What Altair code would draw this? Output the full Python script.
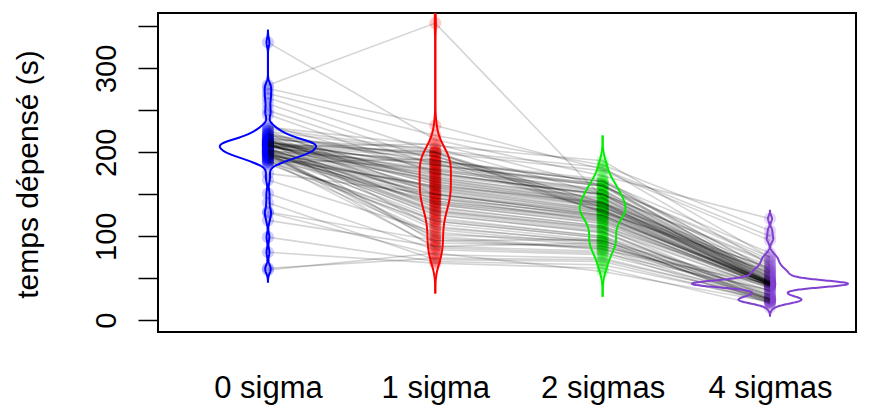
import altair as alt
import numpy as np
import pandas as pd

# condition labels (x axis)
conditions = ["0 sigma", "1 sigma", "2 sigmas", "4 sigmas"]
colors = ["#0000FF", "#FF0000", "#00EE00", "#8040D0"]

# time spent (s) per subject, one list per condition (same subject order)
t0 = [205, 207, 194, 210, 198, 212, 219, 201, 215, 208,
      189, 209, 195, 220, 223, 200, 211, 202, 207, 218,
      197, 190, 213, 204, 199, 225, 213, 208, 203, 210,
      186, 214, 192, 201, 207, 230, 204, 209, 197, 212,
      226, 202, 216, 205, 193, 208, 195, 211, 200, 222,
      215, 203, 188, 209, 188, 214, 201, 207, 196, 210,
      221, 228, 206, 202, 212, 199, 198, 208, 191, 217,
      203, 232, 331, 280, 276, 270, 265, 258, 250, 245,
      175, 167, 151, 140, 129, 128, 119, 99, 81, 62,
      60, 196, 214, 199, 200, 217, 211, 193, 222, 209]
t1 = [190, 175, 160, 200, 150, 185, 140, 130, 205, 170,
      120, 155, 180, 195, 165, 145, 135, 125, 210, 190,
      158, 118, 172, 148, 138, 200, 162, 178, 128, 152,
      115, 182, 142, 168, 195, 208, 132, 158, 122, 176,
      150, 186, 164, 138, 112, 198, 145, 170, 126, 188,
      156, 174, 100, 134, 192, 162, 118, 180, 108, 146,
      168, 202, 130, 154, 184, 95, 140, 166, 88, 196,
      150, 178, 215, 354, 232, 220, 200, 190, 185, 175,
      150, 105, 84, 72, 95, 78, 88, 70, 68, 74,
      80, 102, 92, 86, 98, 110, 200, 160, 142, 188]
t2 = [165, 150, 140, 140, 125, 160, 120, 110, 150, 145,
      100, 130, 155, 138, 138, 118, 112, 105, 160, 168,
      132, 98, 150, 122, 115, 135, 136, 152, 106, 128,
      95, 160, 120, 140, 132, 190, 110, 135, 100, 148,
      126, 162, 140, 116, 92, 140, 124, 146, 104, 166,
      132, 150, 85, 112, 130, 138, 98, 156, 90, 124,
      144, 182, 108, 130, 162, 96, 118, 142, 92, 134,
      128, 154, 172, 146, 180, 185, 178, 165, 160, 150,
      125, 88, 78, 70, 86, 74, 82, 66, 62, 72,
      58, 94, 88, 80, 84, 94, 128, 136, 122, 130]
t3 = [60, 45, 43, 65, 42, 48, 40, 38, 70, 44,
      35, 43, 50, 55, 42, 41, 44, 30, 72, 58,
      45, 25, 46, 43, 40, 62, 44, 47, 24, 42,
      22, 52, 41, 45, 56, 75, 26, 43, 23, 46,
      42, 50, 44, 40, 25, 60, 43, 45, 28, 54,
      42, 46, 22, 41, 57, 44, 30, 48, 24, 43,
      45, 66, 38, 42, 51, 20, 42, 44, 26, 58,
      43, 47, 121, 50, 100, 107, 95, 80, 75, 68,
      45, 35, 28, 22, 30, 25, 20, 24, 15, 26,
      22, 33, 40, 36, 43, 42, 63, 44, 46, 53]
series = [t0, t1, t2, t3]

# kernel bandwidth of each violin
violin_bw = [5, 12, 10, 3.5]

rows = []
for ci, vals in enumerate(series):
    for si, v in enumerate(vals):
        rows.append({"subject": si, "cond": conditions[ci], "pos": ci + 1, "value": v})
df = pd.DataFrame(rows)

# violin width scale: widest violin gets half-width 0.466 category units
def kde_max(vals, bw, lo, hi):
    v = np.asarray(vals, float)
    g = np.linspace(lo, hi, 3000)
    d = np.exp(-0.5 * ((g[:, None] - v[None, :]) / bw) ** 2).sum(1) / (len(v) * bw * np.sqrt(2 * np.pi))
    return d.max()

extents = [[min(s) - 3 * b, max(s) + 3 * b] for s, b in zip(series, violin_bw)]
dmax = max(kde_max(s, b, e[0], e[1]) for s, b, e in zip(series, violin_bw, extents))
K = 0.466 / dmax

xscale = alt.Scale(domain=[0.343, 4.514], nice=False, zero=False)
yscale = alt.Scale(domain=[-14, 366], nice=False, zero=False)
cscale = alt.Scale(domain=conditions, range=colors)

label_expr = "[" + ",".join("'%s'" % c for c in conditions) + "][datum.value - 1]"

xaxis = alt.Axis(values=[1, 2, 3, 4], labelExpr=label_expr, tickSize=0, domain=False, grid=False,
                 labelFontSize=31, labelPadding=65, labelBaseline="alphabetic", labelColor="black",
                 labelOverlap=False, labelFont="Liberation Sans", title=None)
yaxis = alt.Axis(values=[0, 50, 100, 150, 200, 250, 300, 350],
                 labelExpr="datum.value % 100 == 0 ? datum.label : ''",
                 tickSize=20, tickWidth=1.5, tickColor="black", domain=False, grid=False,
                 labelFontSize=29, labelAngle=270, labelAlign="center", labelBaseline="alphabetic",
                 labelPadding=23, labelColor="black", labelFont="Liberation Sans",
                 title="temps dépensé (s)", titleFontSize=30, titleFont="Liberation Sans",
                 titleFontWeight="normal", titleColor="black", titleAngle=270, titleX=-121, titleY=161,
                 titleAlign="center", titleBaseline="alphabetic")

base = alt.Chart(df)

points = base.mark_circle(size=150, opacity=0.2, clip=True).encode(
    x=alt.X("pos:Q", scale=xscale, axis=xaxis),
    y=alt.Y("value:Q", scale=yscale, axis=yaxis),
    color=alt.Color("cond:N", scale=cscale, legend=None),
)

lines = base.mark_line(color="black", opacity=0.17, strokeWidth=1.6, clip=True).encode(
    x=alt.X("pos:Q", scale=xscale),
    y=alt.Y("value:Q", scale=yscale),
    detail="subject:N",
    order="pos:Q",
)

violins = []
for ci, c in enumerate(conditions):
    v = (base.transform_filter(alt.datum.cond == c)
         .transform_density("value", as_=["value", "density"], bandwidth=violin_bw[ci],
                            extent=extents[ci], steps=500)
         .transform_calculate(xl=f"{ci + 1} - datum.density * {K}",
                              xr=f"{ci + 1} + datum.density * {K}")
         .transform_fold(["xl", "xr"], as_=["side", "xv"])
         .mark_line(color=colors[ci], strokeWidth=2, clip=True)
         .encode(x=alt.X("xv:Q", scale=xscale),
                 y=alt.Y("value:Q", scale=yscale),
                 detail="side:N",
                 order="value:Q"))
    violins.append(v)

chart = alt.layer(points, lines, *violins).properties(
    width=698, height=319,
    autosize=alt.AutoSizeParams(type="none"),
    padding={"left": 158, "top": 13, "right": 15, "bottom": 76},
    background="white",
).configure_view(stroke="black", strokeWidth=2)

chart.save("out.html", embed_options={"renderer": "svg", "actions": False})
